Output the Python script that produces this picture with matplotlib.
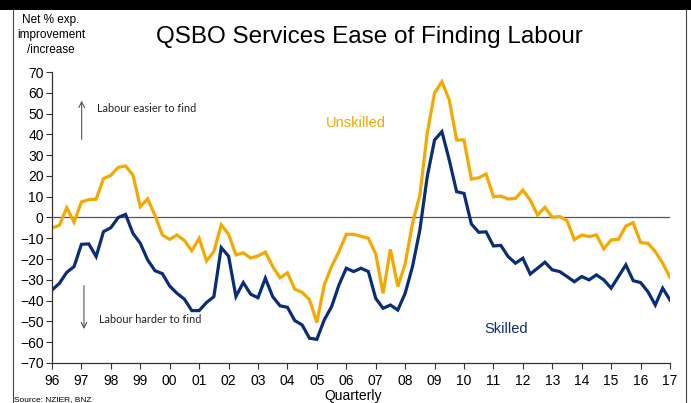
import numpy as np
import matplotlib
matplotlib.use("Agg")
import matplotlib.pyplot as plt
from matplotlib.patches import Rectangle

# DATA (quarterly, 1996Q1 .. 2017Q1)
unskilled = [-5, -3.8, 4.7, -2.2, 7.5, 8.6, 8.8, 18.7, 20.3, 24.1, 24.8, 20.4,
             5.2, 9, 1, -8.4, -10.5, -8.4, -11.1, -16, -10, -20.9, -16.4, -3.6,
             -8, -18, -17, -19.5, -18.5, -16.6, -23.6, -29, -26.6, -34.5, -36, -39.5,
             -50.5, -32.5, -23.6, -16.4, -8.1, -8.1, -9, -10, -17.5, -36.5, -15.3, -33.2,
             -22.4, -2.8, 10.8, 40.5, 60, 65.3, 56.5, 37.3, 37.3, 18.5, 19.1, 20.9,
             10, 10.3, 8.9, 9.2, 13.2, 8.4, 1.2, 4.9, 0.1, 0.5, -1.5, -10.7,
             -8.4, -9.2, -8.4, -15.1, -10.8, -10.5, -4.1, -2.5, -12.1, -12.4, -16.4, -22,
             -28.8]
skilled = [-34.9, -31.7, -26.4, -23.6, -12.9, -12.7, -18.8, -6.8, -4.9, 0, 1.5, -7.6,
           -12.4, -20.4, -25.6, -27, -33, -36.5, -39.3, -44.8, -44.8, -40.9, -38.1, -14.5,
           -18.6, -38, -31.3, -36.9, -38.6, -29.2, -38.1, -42.5, -43.2, -49.6, -51.7, -58.1,
           -58.6, -49.3, -42.9, -32.5, -24.4, -26, -24.4, -26, -38.9, -43.7, -42.1, -44.5,
           -36.5, -23.6, -6, 19.6, 37.3, 41.3, 27.6, 12.4, 11.6, -3.1, -7.1, -6.9,
           -13.7, -13.4, -18.8, -22, -19.6, -27.2, -24.4, -21.5, -25.2, -26, -28.4, -30.9,
           -28.4, -30, -27.6, -30, -34, -28.4, -22.8, -30.4, -31.3, -35.7, -42.1, -34,
           -39.7]
year_ticks = list(range(1996, 2018))
year_labels = ["96", "97", "98", "99", "00", "01", "02", "03", "04", "05", "06",
               "07", "08", "09", "10", "11", "12", "13", "14", "15", "16", "17"]

x = 1996 + np.arange(len(skilled)) / 4

ORANGE = "#F5A800"
NAVY = "#0A2D78"
plt.rcParams["font.family"] = ["Liberation Sans", "DejaVu Sans"]

# FIGURE
fig = plt.figure(figsize=(6.91, 4.03), dpi=100)
ax = fig.add_axes([52 / 691, 40 / 403, 618 / 691, 291 / 403])

# frame around the chart + black band at the top
fig.patches.append(Rectangle((0, 1 - 10 / 403), 1, 10 / 403, transform=fig.transFigure,
                             facecolor="black", edgecolor="none"))
fig.lines.append(plt.Line2D([13 / 691, 13 / 691], [0, 1 - 10 / 403], transform=fig.transFigure,
                            color="#444444", lw=0.8))
fig.lines.append(plt.Line2D([686 / 691, 686 / 691], [0, 1 - 10 / 403], transform=fig.transFigure,
                            color="#444444", lw=0.8))

ax.plot(x, unskilled, color=ORANGE, lw=2.3, solid_joinstyle="miter")
ax.plot(x, skilled, color=NAVY, lw=2.3, solid_joinstyle="miter")
ax.axhline(0, color="#555555", lw=0.9, zorder=0)

ax.set_xlim(1996, 2017)
ax.set_ylim(-70, 70)
ax.set_yticks(range(-70, 71, 10))
ax.set_xticks(year_ticks)
ax.set_xticklabels(year_labels)
for s in ["top", "right"]:
    ax.spines[s].set_visible(False)
for s in ["left", "bottom"]:
    ax.spines[s].set_color("#333333")
    ax.spines[s].set_linewidth(0.9)
ax.tick_params(axis="both", direction="out", length=4, width=0.8, color="#333333",
               labelsize=10, pad=2)
ax.tick_params(axis="x", pad=4)

# TEXT
fig.text(369 / 691, 1 - 37 / 403, "QSBO Services Ease of Finding Labour",
         ha="center", va="center", fontsize=17.5)
fig.text(51 / 691, 1 - 35 / 403, "Net % exp.\nimprovement\n/increase",
         ha="center", va="center", fontsize=8.5, linespacing=1.3)
fig.text(353 / 691, 1 - 396 / 403, "Quarterly", ha="center", va="center", fontsize=10)
fig.text(14 / 691, 1 - 400 / 403, "Source: NZIER, BNZ", ha="left", va="center", fontsize=6)

ax.text(0.0728, 0.874, "Labour easier to find", transform=ax.transAxes,
        fontsize=7.8, family="Lato", va="center", color="#222222")
ax.text(0.0760, 0.151, "Labour harder to find", transform=ax.transAxes,
        fontsize=7.8, family="Lato", va="center", color="#222222")
ax.annotate("", xy=(0.048, 0.911), xytext=(0.048, 0.759), xycoords="axes fraction",
            arrowprops=dict(arrowstyle="->", color="#555555", lw=0.8))
ax.annotate("", xy=(0.0517, 0.107), xytext=(0.0517, 0.275), xycoords="axes fraction",
            arrowprops=dict(arrowstyle="->", color="#555555", lw=0.8))

ax.text(2006.33, 45.4, "Unskilled", color=ORANGE, fontsize=10.5, ha="center", va="center")
ax.text(2011.44, -53.5, "Skilled", color=NAVY, fontsize=10.5, ha="center", va="center")

fig.savefig("out.png", dpi=100)
